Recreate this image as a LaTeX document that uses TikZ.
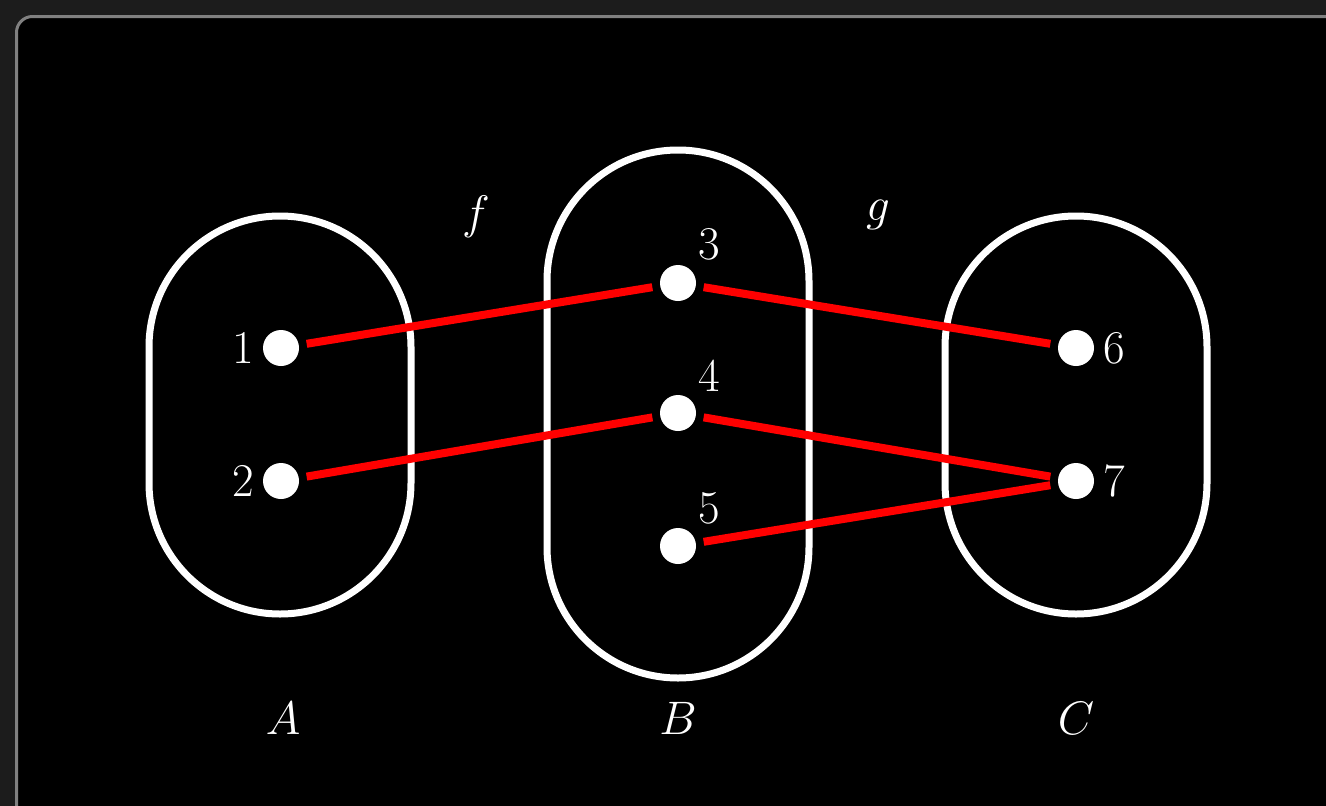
\RequirePackage{fix-cm}
\documentclass[tikz,border=0pt]{standalone}
\usepackage{tikz}
\begin{document}
\begin{tikzpicture}[x=1pt,y=-1pt,
  dot/.style={circle,fill=white,inner sep=0pt,minimum size=36pt,outer sep=8pt},
  setbox/.style={draw=white,line width=7pt,rectangle,rounded corners=131pt,minimum width=262pt,inner sep=0pt},
  edge/.style={draw=red,line width=8pt},
  txt/.style={text=white,font=\fontsize{47}{56}\selectfont,inner sep=0pt}]
\useasboundingbox (0,0) rectangle (1326,806);
\fill[fill={rgb,255:red,28;green,28;blue,28}] (0,0) rectangle (1326,806);
\begin{scope}
\clip (0,0) rectangle (1326,806);
\draw[fill=black,draw={rgb,255:red,128;green,128;blue,128},line width=3pt,rounded corners=16pt] (16.5,16.5) rectangle (1360,840);
\end{scope}
% sets
\node[setbox,minimum height=398pt] (SA) at (280,415) {};
\node[setbox,minimum height=528pt] (SB) at (678,414) {};
\node[setbox,minimum height=398pt] (SC) at (1076,415) {};
% elements
\node[dot] (n1) at (281,348) {};
\node[dot] (n2) at (281,481) {};
\node[dot] (n3) at (678,283) {};
\node[dot] (n4) at (678,413) {};
\node[dot] (n5) at (678,546) {};
\node[dot] (n6) at (1076,348) {};
\node[dot] (n7) at (1076,481) {};
% element labels
\node[txt] (l1) at (243,348) {1};
\node[txt] (l2) at (243,481) {2};
\node[txt] (l3) at (709,244) {3};
\node[txt] (l4) at (709,376) {4};
\node[txt] (l5) at (709,508) {5};
\node[txt] (l6) at (1114,348) {6};
\node[txt] (l7) at (1114,481) {7};
% mappings
\draw[edge] (n1) -- (n3);
\draw[edge] (n2) -- (n4);
\draw[edge] (n3) -- (n6);
\draw[edge] (n4) -- (n7);
\draw[edge] (n5) -- (n7);
% function and set names
\node[txt] (f) at (476,217) {$f$};
\node[txt] (g) at (878,215) {$g$};
\node[txt] (A) at (283,718) {$A$};
\node[txt] (B) at (678,718) {$B$};
\node[txt] (C) at (1076,718) {$C$};
\end{tikzpicture}
\end{document}
